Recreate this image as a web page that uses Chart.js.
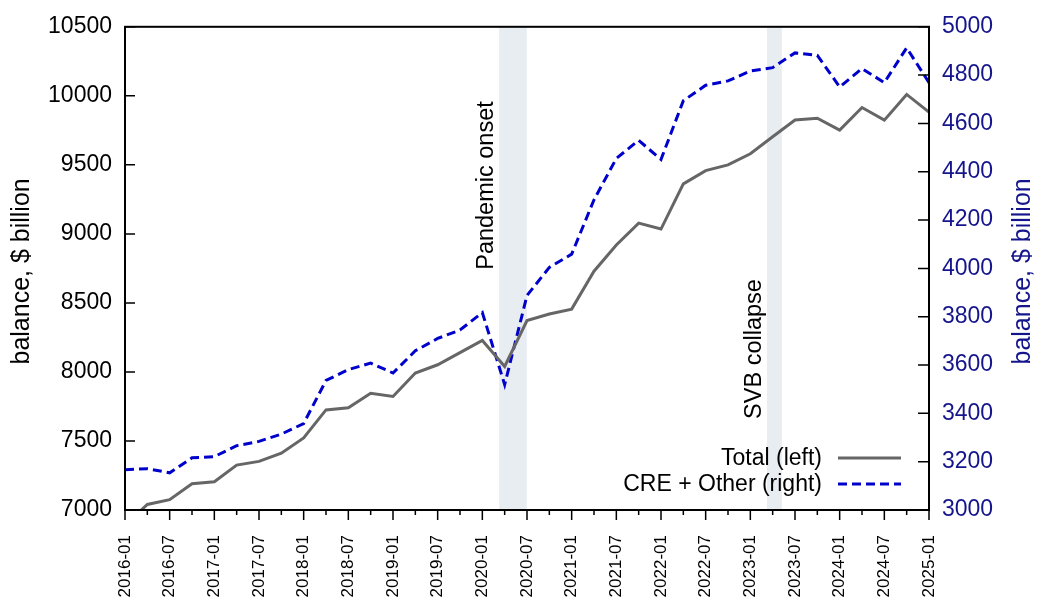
<!DOCTYPE html>
<html>
<head>
<meta charset="utf-8">
<script src="https://cdn.jsdelivr.net/npm/chart.js@4"></script>
<style>
  html, body { margin: 0; padding: 0; background: #ffffff; }
  #wrap { width: 1041px; height: 612px; }
</style>
</head>
<body>
<div id="wrap"><canvas id="c" width="1041" height="612"></canvas></div>
<script>
// ---- data (quarterly) ----
const quarters = [
  '2016-01','2016-04','2016-07','2016-10',
  '2017-01','2017-04','2017-07','2017-10',
  '2018-01','2018-04','2018-07','2018-10',
  '2019-01','2019-04','2019-07','2019-10',
  '2020-01','2020-04','2020-07','2020-10',
  '2021-01','2021-04','2021-07','2021-10',
  '2022-01','2022-04','2022-07','2022-10',
  '2023-01','2023-04','2023-07','2023-10',
  '2024-01','2024-04','2024-07','2024-10',
  '2025-01'
];
const totalLeft = [
  6890, 7040, 7075, 7190,
  7205, 7325, 7352, 7412,
  7522, 7725, 7740, 7845,
  7822, 7992, 8052, 8140,
  8228, 8040, 8372, 8420,
  8455, 8730, 8920, 9078,
  9035, 9362, 9458, 9500,
  9580, 9704, 9825, 9838,
  9752, 9915, 9824, 10010,
  9882
];
const creOtherRight = [
  3167, 3171, 3154, 3216,
  3221, 3266, 3284, 3314,
  3358, 3536, 3581, 3608,
  3567, 3659, 3710, 3745,
  3817, 3519, 3888, 4004,
  4059, 4284, 4455, 4530,
  4451, 4694, 4758, 4776,
  4817, 4831, 4892, 4882,
  4751, 4827, 4769, 4913,
  4769
];
const seriesNames = ['Total (left)', 'CRE + Other (right)'];
const xStart = '2016-01';
const xEnd = '2025-01';
const xTickStepMonths = 6;
const leftTicks = { min: 7000, max: 10500, step: 500 };
const rightTicks = { min: 3000, max: 5000, step: 200 };
const axisTitle = 'balance, $ billion';
const eventBands = [
  { label: 'Pandemic onset', start: '2020-03-09', end: '2020-06-30', labelAt: 8740 },
  { label: 'SVB collapse',   start: '2023-03-08', end: '2023-05-08', labelAt: 7660 }
];

// ---- helpers ----
function monthIndex(s) {
  const p = s.split('-').map(Number);
  const y = p[0], m = p[1], d = p[2] || 1;
  const dim = new Date(y, m, 0).getDate();
  return (y - 2016) * 12 + (m - 1) + (d - 1) / dim;
}
function monthLabel(v) {
  const y = 2016 + Math.floor(v / 12);
  const m = (v % 12) + 1;
  return y + '-' + String(m).padStart(2, '0');
}

const FONT = "'Liberation Sans', Arial, Helvetica, sans-serif";
const NAVY = '#14148c';
const GRAY = '#666666';
const BLUE = '#0000cc';

const totalPts = quarters.map((q, i) => ({ x: monthIndex(q), y: totalLeft[i] }));
const crePts = quarters.map((q, i) => ({ x: monthIndex(q), y: creOtherRight[i] }));

// ---- plugins ----
const bandsPlugin = {
  id: 'bands',
  beforeDatasetsDraw(chart) {
    const { ctx, chartArea: a, scales: { x } } = chart;
    ctx.save();
    ctx.fillStyle = '#e8edf2';
    eventBands.forEach(b => {
      const x0 = x.getPixelForValue(monthIndex(b.start));
      const x1 = x.getPixelForValue(monthIndex(b.end));
      ctx.fillRect(x0, a.top, x1 - x0, a.bottom - a.top);
    });
    ctx.restore();
  }
};

const decoPlugin = {
  id: 'deco',
  afterDraw(chart) {
    const { ctx, chartArea: a, scales: { x, yL, yR } } = chart;
    ctx.save();
    // band labels
    ctx.fillStyle = '#000';
    ctx.font = '23.5px ' + FONT;
    ctx.textAlign = 'left';
    ctx.textBaseline = 'middle';
    eventBands.forEach(b => {
      const x0 = x.getPixelForValue(monthIndex(b.start));
      const yy = yL.getPixelForValue(b.labelAt);
      ctx.save();
      ctx.translate(x0 - 12.5, yy);
      ctx.rotate(-Math.PI / 2);
      ctx.fillText(b.label, 0, 0);
      ctx.restore();
    });

    // tick marks
    ctx.strokeStyle = '#000';
    ctx.lineWidth = 1.5;
    ctx.beginPath();
    for (let v = x.min; v <= x.max + 1e-6; v += 3) {
      const px = x.getPixelForValue(v);
      const len = (v % 6 === 0) ? 10 : 5;
      ctx.moveTo(px, a.bottom); ctx.lineTo(px, a.bottom + len);
    }
    for (let v = leftTicks.min; v <= leftTicks.max; v += leftTicks.step) {
      const py = yL.getPixelForValue(v);
      ctx.moveTo(a.left, py); ctx.lineTo(a.left + 10, py);
    }
    for (let v = rightTicks.min; v <= rightTicks.max; v += rightTicks.step) {
      const py = yR.getPixelForValue(v);
      ctx.moveTo(a.right, py); ctx.lineTo(a.right - 11, py);
    }
    ctx.stroke();

    // frame
    ctx.lineWidth = 2;
    ctx.strokeRect(a.left, a.top, a.right - a.left, a.bottom - a.top);

    // axis titles
    ctx.font = '25px ' + FONT;
    ctx.textAlign = 'center';
    ctx.textBaseline = 'middle';
    const midY = (a.top + a.bottom) / 2 + 3;
    ctx.save();
    ctx.translate(22, midY);
    ctx.rotate(-Math.PI / 2);
    ctx.fillStyle = '#000';
    ctx.fillText(axisTitle, 0, 0);
    ctx.restore();
    ctx.save();
    ctx.translate(1023, midY);
    ctx.rotate(-Math.PI / 2);
    ctx.fillStyle = NAVY;
    ctx.fillText(axisTitle, 0, 0);
    ctx.restore();

    // legend (text right-aligned, sample line on the right)
    ctx.font = '23px ' + FONT;
    ctx.textAlign = 'right';
    ctx.textBaseline = 'middle';
    const lx1 = 838, lx2 = 901, tx = 822;
    const rows = [
      { name: seriesNames[0], y: 458, color: GRAY, dash: [] },
      { name: seriesNames[1], y: 484, color: BLUE, dash: [9, 5] }
    ];
    rows.forEach(r => {
      ctx.fillStyle = '#000';
      ctx.fillText(r.name, tx, r.y + 1);
      ctx.strokeStyle = r.color;
      ctx.lineWidth = 3;
      ctx.setLineDash(r.dash);
      ctx.beginPath();
      ctx.moveTo(lx1, r.y); ctx.lineTo(lx2, r.y);
      ctx.stroke();
      ctx.setLineDash([]);
    });
    ctx.restore();
  }
};

new Chart(document.getElementById('c'), {
  type: 'line',
  data: {
    datasets: [
      {
        label: seriesNames[0],
        data: totalPts,
        yAxisID: 'yL',
        borderColor: GRAY,
        borderWidth: 3,
        pointRadius: 0,
        tension: 0,
        fill: false
      },
      {
        label: seriesNames[1],
        data: crePts,
        yAxisID: 'yR',
        borderColor: BLUE,
        borderWidth: 3,
        borderDash: [9, 5],
        pointRadius: 0,
        tension: 0,
        fill: false
      }
    ]
  },
  options: {
    responsive: false,
    animation: false,
    devicePixelRatio: 1,
    layout: { padding: { top: 22, left: 0, right: 0, bottom: 0 } },
    plugins: { legend: { display: false }, tooltip: { enabled: false } },
    scales: {
      x: {
        type: 'linear',
        min: monthIndex(xStart),
        max: monthIndex(xEnd),
        grid: { display: false, drawTicks: false },
        border: { display: false },
        afterFit(s) { s.height = 102; },
        afterBuildTicks(s) {
          const t = [];
          for (let v = s.min; v <= s.max + 1e-6; v += xTickStepMonths) t.push({ value: v });
          s.ticks = t;
        },
        ticks: {
          autoSkip: false,
          maxRotation: 90,
          minRotation: 90,
          padding: 25,
          color: '#000',
          font: { family: FONT, size: 17 },
          callback: (v) => monthLabel(v)
        }
      },
      yL: {
        type: 'linear',
        position: 'left',
        min: leftTicks.min,
        max: leftTicks.max,
        grid: { display: false, drawTicks: false },
        border: { display: false },
        afterFit(s) { s.width = 125; },
        ticks: {
          stepSize: leftTicks.step,
          padding: 13,
          color: '#000',
          font: { family: FONT, size: 23 },
          callback: (v) => String(v)
        }
      },
      yR: {
        type: 'linear',
        position: 'right',
        min: rightTicks.min,
        max: rightTicks.max,
        grid: { display: false, drawTicks: false },
        border: { display: false },
        afterFit(s) { s.width = 112; },
        ticks: {
          stepSize: rightTicks.step,
          padding: 13,
          color: NAVY,
          font: { family: FONT, size: 23 },
          callback: (v) => String(v)
        }
      }
    }
  },
  plugins: [bandsPlugin, decoPlugin]
});
</script>
</body>
</html>
